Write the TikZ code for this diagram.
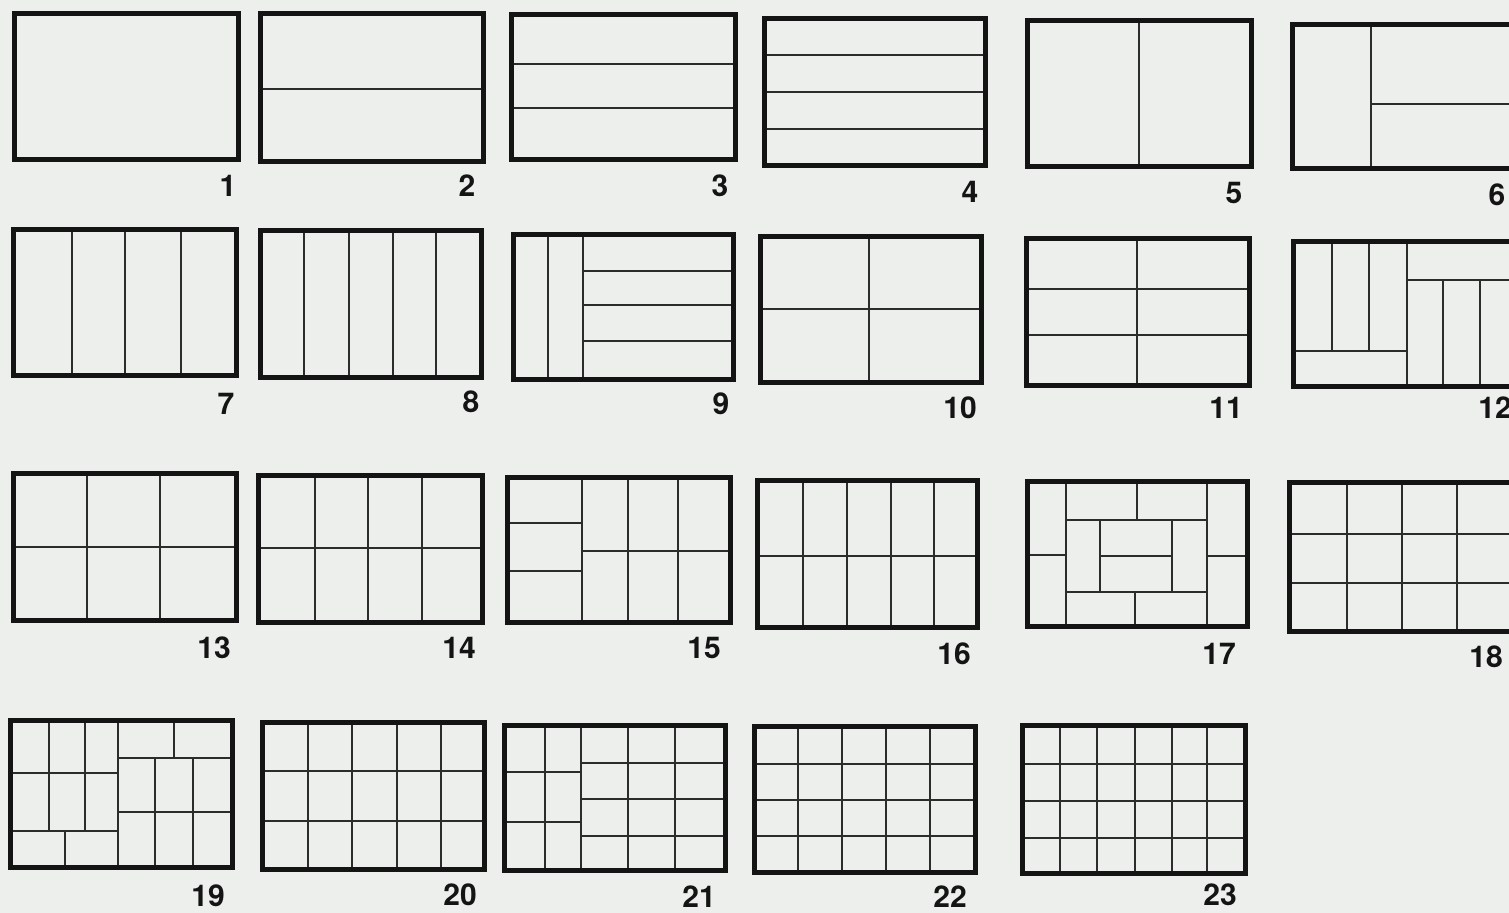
\documentclass[tikz,border=0pt]{standalone}
\usepackage{fontspec}
\setmainfont{TeX Gyre Heros}
\definecolor{paper}{RGB}{236,239,236}
\definecolor{ink}{RGB}{20,20,20}
\begin{document}
\begin{tikzpicture}[x=0.5pt,y=-0.5pt,
  frame/.style={line width=2.5pt, draw=ink, line join=miter},
  div/.style={line width=1.25pt, draw=ink!90},
  lbl/.style={font=\fontsize{15}{16}\selectfont\bfseries, inner sep=0pt, text=ink}]
\fill[paper] (0,0) rectangle (1509,913);
\useasboundingbox (0,0) rectangle (1509,913);
% ---------- row 1
% 1
\draw[frame] (14,14) rectangle (238,160);
\node[lbl] (l1) at (228,186) {1};
% 2
\draw[div] (260,89) -- (483,89);
\draw[frame] (260,14) rectangle (483,162);
\node[lbl] (l2) at (467,186) {2};
% 3
\foreach \y in {64,108} \draw[div] (511,\y) -- (735,\y);
\draw[frame] (511,15) rectangle (735,160);
\node[lbl] (l3) at (720,186) {3};
% 4
\foreach \y in {55,92,129} \draw[div] (764,\y) -- (985,\y);
\draw[frame] (764,19) rectangle (985,166);
\node[lbl] (l4) at (970,192) {4};
% 5
\draw[div] (1139,21) -- (1139,167);
\draw[frame] (1027,21) rectangle (1251,167);
\node[lbl] (l5) at (1234,193) {5};
% 6
\draw[div] (1371,25) -- (1371,169);
\draw[div] (1371,104) -- (1516,104);
\draw[frame] (1292,25) rectangle (1516,169);
\node[lbl] (l6) at (1497,195) {6};
% ---------- row 2
% 7
\foreach \x in {72,125,181} \draw[div] (\x,230) -- (\x,376);
\draw[frame] (13,230) rectangle (236,376);
\node[lbl] (l7) at (226,404) {7};
% 8
\foreach \x in {304,349,393,436} \draw[div] (\x,231) -- (\x,378);
\draw[frame] (260,231) rectangle (481,378);
\node[lbl] (l8) at (471,402) {8};
% 9
\foreach \x in {548,583} \draw[div] (\x,235) -- (\x,380);
\foreach \y in {271,305,341} \draw[div] (583,\y) -- (733,\y);
\draw[frame] (513,235) rectangle (733,380);
\node[lbl] (l9) at (721,404) {9};
% 10
\draw[div] (869,237) -- (869,383);
\draw[div] (760,309) -- (981,309);
\draw[frame] (760,237) rectangle (981,383);
\node[lbl] (l10) at (960,408) {10};
% 11
\draw[div] (1137,239) -- (1137,386);
\foreach \y in {289,335} \draw[div] (1026,\y) -- (1249,\y);
\draw[frame] (1026,239) rectangle (1249,386);
\node[lbl] (l11) at (1226,408) {11};
% 12
\foreach \x in {1332,1369} \draw[div] (\x,242) -- (\x,351);
\draw[div] (1293,351) -- (1407,351);
\draw[div] (1407,242) -- (1407,387);
\draw[div] (1407,280) -- (1516,280);
\foreach \x in {1443,1480} \draw[div] (\x,280) -- (\x,387);
\draw[frame] (1293,242) rectangle (1516,387);
\node[lbl] (l12) at (1495,408) {12};
% ---------- row 3
% 13
\foreach \x in {87,160} \draw[div] (\x,474) -- (\x,621);
\draw[div] (13,547) -- (236,547);
\draw[frame] (13,474) rectangle (236,621);
\node[lbl] (l13) at (214,648) {13};
% 14
\foreach \x in {315,368,422} \draw[div] (\x,476) -- (\x,623);
\draw[div] (258,548) -- (482,548);
\draw[frame] (258,476) rectangle (482,623);
\node[lbl] (l14) at (459,648) {14};
% 15
\draw[div] (582,478) -- (582,623);
\foreach \y in {523,571} \draw[div] (507,\y) -- (582,\y);
\foreach \x in {628,678} \draw[div] (\x,478) -- (\x,623);
\draw[div] (582,551) -- (730,551);
\draw[frame] (507,478) rectangle (730,623);
\node[lbl] (l15) at (704,648) {15};
% 16
\foreach \x in {803,847,891,934} \draw[div] (\x,481) -- (\x,628);
\draw[div] (757,556) -- (977,556);
\draw[frame] (757,481) rectangle (977,628);
\node[lbl] (l16) at (954,654) {16};
% 17
\foreach \x in {1066,1207} \draw[div] (\x,482) -- (\x,627);
\draw[div] (1027,555) -- (1066,555);
\draw[div] (1207,556) -- (1247,556);
\foreach \y in {520,592} \draw[div] (1066,\y) -- (1207,\y);
\draw[div] (1137,482) -- (1137,520);
\draw[div] (1135,592) -- (1135,627);
\foreach \x in {1100,1172} \draw[div] (\x,520) -- (\x,592);
\draw[div] (1100,556) -- (1172,556);
\draw[frame] (1027,482) rectangle (1247,627);
\node[lbl] (l17) at (1219,654) {17};
% 18
\foreach \x in {1347,1402,1457} \draw[div] (\x,483) -- (\x,632);
\foreach \y in {534,583} \draw[div] (1289,\y) -- (1516,\y);
\draw[frame] (1289,483) rectangle (1514,632);
\node[lbl] (l18) at (1486,657) {18};
% ---------- row 4
% 19
\draw[div] (118,720) -- (118,867);
\foreach \x in {49,85} \draw[div] (\x,720) -- (\x,831);
\foreach \y in {773,831} \draw[div] (10,\y) -- (118,\y);
\draw[div] (65,831) -- (65,867);
\draw[div] (118,758) -- (232,758);
\draw[div] (174,720) -- (174,758);
\foreach \x in {155,193} \draw[div] (\x,758) -- (\x,867);
\draw[div] (118,812) -- (232,812);
\draw[frame] (10,720) rectangle (232,867);
\node[lbl] (l19) at (208,896) {19};
% 20
\foreach \x in {308,352,397,441} \draw[div] (\x,722) -- (\x,869);
\foreach \y in {771,821} \draw[div] (262,\y) -- (484,\y);
\draw[frame] (262,722) rectangle (484,869);
\node[lbl] (l20) at (460,895) {20};
% 21
\foreach \x in {545,581,628,675} \draw[div] (\x,725) -- (\x,870);
\foreach \y in {772,822} \draw[div] (504,\y) -- (581,\y);
\foreach \y in {763,799,836} \draw[div] (581,\y) -- (725,\y);
\draw[frame] (504,725) rectangle (725,870);
\node[lbl] (l21) at (699,897) {21};
% 22
\foreach \x in {798,842,886,930} \draw[div] (\x,726) -- (\x,872);
\foreach \y in {764,800,836} \draw[div] (754,\y) -- (975,\y);
\draw[frame] (754,726) rectangle (975,872);
\node[lbl] (l22) at (950,897) {22};
% 23
\foreach \x in {1060,1097,1135,1172,1207} \draw[div] (\x,725) -- (\x,873);
\foreach \y in {764,801,838} \draw[div] (1022,\y) -- (1245,\y);
\draw[frame] (1022,725) rectangle (1245,873);
\node[lbl] (l23) at (1220,895) {23};
\end{tikzpicture}
\end{document}
